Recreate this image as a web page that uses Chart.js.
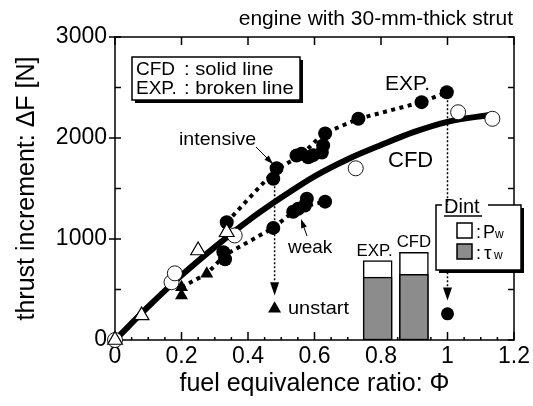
<!DOCTYPE html>
<html><head><meta charset="utf-8">
<script src="https://cdn.jsdelivr.net/npm/chart.js@4/dist/chart.umd.min.js"></script>
<style>html,body{margin:0;padding:0;background:#fff;overflow:hidden}</style>
</head><body>
<canvas id="c" width="533" height="406" style="width:533px;height:406px;display:block"></canvas>
<script>
// ---- tick labels ----
const xTickValues = [0, 0.2, 0.4, 0.6, 0.8, 1, 1.2];
const xTickLabels = ['0', '0.2', '0.4', '0.6', '0.8', '1', '1.2'];
const yTickValues = [0, 1000, 2000, 3000];
const yTickLabels = ['0', '1000', '2000', '3000'];

// ---- CFD solid curve ----
const cfdCurvePhi = [0, 0.1, 0.2, 0.3, 0.4, 0.5, 0.6, 0.7, 0.8, 0.9, 1.0, 1.13];
const cfdCurveDF  = [0, 330, 640, 920, 1180, 1410, 1620, 1790, 1930, 2060, 2160, 2230];

// ---- EXP broken lines ----
const expUpperPhi = [0.336, 0.481, 0.56, 0.626, 0.732, 0.922, 0.998];
const expUpperDF  = [1166, 1678, 1830, 2042, 2190, 2355, 2453];
const expLowerPhi = [0.2, 0.276, 0.33, 0.476, 0.536, 0.577, 0.632];
const expLowerDF  = [523, 655, 840, 1110, 1270, 1330, 1370];

// ---- markers ----
const expCirclePhi = [0.336, 0.476, 0.486, 0.546, 0.561, 0.581, 0.596, 0.622, 0.626, 0.632, 0.732, 0.922, 0.998,
                      0.326, 0.331, 0.476, 0.536, 0.551, 0.571, 0.577, 0.632];
const expCircleDF  = [1166, 1596, 1700, 1827, 1843, 1810, 1830, 1856, 1926, 2045, 2190, 2355, 2453,
                      870, 800, 1110, 1270, 1300, 1332, 1398, 1370];
const cfdCirclePhi = [0, 0.17, 0.18, 0.36, 0.724, 1.032, 1.135];
const cfdCircleDF  = [0, 572, 660, 1035, 1700, 2255, 2190];
const openTriPhi = [0, 0.08, 0.25, 0.336];
const openTriDF  = [0, 243, 886, 1067];
const fillTriPhi = [0.2, 0.2, 0.276];
const fillTriDF  = [523, 440, 655];
const unstartTriPhi = [0.48];
const unstartTriDF  = [310];
const unstartCirPhi = [1.0];
const unstartCirDF  = [259];

// ---- drop arrows (vertical broken arrows) ----
const dropPhi      = [0.48, 1.0];
const dropFromDF   = [1680, 2453];
const dropHeadBase = [572, 520];
const dropTipDF    = [440, 390];

// ---- Dint bars ----
const barLabels = ['EXP.', 'CFD'];
const barPhi    = [0.79, 0.899];
const barTotal  = [787, 869];   // Pw + tau_w
const barTau    = [622, 649];   // tau_w

const FONT = "'Liberation Sans', Arial, Helvetica, sans-serif";
const pts = (xs, ys) => xs.map((x, i) => ({x, y: ys[i]}));

function txt(ctx, s, x, y, size, align, sx) {
  ctx.save();
  ctx.font = size + 'px ' + FONT;
  ctx.textAlign = align || 'left';
  ctx.textBaseline = 'alphabetic';
  ctx.fillStyle = '#000';
  ctx.translate(x, y);
  if (sx) ctx.scale(sx, 1);
  ctx.fillText(s, 0, 0);
  ctx.restore();
}
function arrowHead(ctx, x1, y1, x2, y2, len, w) {
  const a = Math.atan2(y2 - y1, x2 - x1);
  ctx.beginPath();
  ctx.moveTo(x2, y2);
  ctx.lineTo(x2 - len * Math.cos(a) + w / 2 * Math.sin(a), y2 - len * Math.sin(a) - w / 2 * Math.cos(a));
  ctx.lineTo(x2 - len * Math.cos(a) - w / 2 * Math.sin(a), y2 - len * Math.sin(a) + w / 2 * Math.cos(a));
  ctx.closePath();
  ctx.fill();
}
function arrow(ctx, x1, y1, x2, y2) {
  ctx.strokeStyle = '#000'; ctx.fillStyle = '#000'; ctx.lineWidth = 1;
  ctx.setLineDash([]);
  const a = Math.atan2(y2 - y1, x2 - x1);
  ctx.beginPath(); ctx.moveTo(x1, y1); ctx.lineTo(x2 - 6 * Math.cos(a), y2 - 6 * Math.sin(a)); ctx.stroke();
  arrowHead(ctx, x1, y1, x2, y2, 9, 6);
}

const framePlugin = {
  id: 'frame',
  beforeDatasetsDraw(chart) {
    const {ctx, chartArea: a, scales: {x, y}} = chart;
    ctx.save();
    ctx.strokeStyle = '#000'; ctx.lineWidth = 1.5; ctx.setLineDash([]);
    ctx.strokeRect(a.left, a.top, a.right - a.left, a.bottom - a.top);
    ctx.beginPath();
    for (let v = 0; v <= 1.2001; v += 0.05) {
      const px = x.getPixelForValue(v);
      const major = Math.abs(v / 0.2 - Math.round(v / 0.2)) < 1e-6;
      ctx.moveTo(px, a.bottom); ctx.lineTo(px, a.bottom - (major ? 8 : 3));
      if (major) { ctx.moveTo(px, a.top); ctx.lineTo(px, a.top + 8); }
    }
    for (let v = 0; v <= 3000; v += 500) {
      const py = y.getPixelForValue(v);
      const major = v % 1000 === 0;
      ctx.moveTo(a.left - (major ? 6 : 0), py); ctx.lineTo(a.left + 6, py);
      ctx.moveTo(a.right, py); ctx.lineTo(a.right - 6, py);
    }
    ctx.stroke();
    ctx.restore();
  },
  afterDatasetsDraw(chart) {
    const {ctx, scales: {x, y}} = chart;
    ctx.save();
    // drop arrow heads
    ctx.fillStyle = '#000';
    dropPhi.forEach((p, i) => {
      const px = x.getPixelForValue(p);
      const yb = y.getPixelForValue(dropHeadBase[i]);
      const yt = y.getPixelForValue(dropTipDF[i]);
      ctx.beginPath(); ctx.moveTo(px - 4.5, yb); ctx.lineTo(px + 4.5, yb); ctx.lineTo(px, yt); ctx.closePath(); ctx.fill();
    });
    // bar labels
    txt(ctx, barLabels[0], x.getPixelForValue(barPhi[0]) - 3, y.getPixelForValue(barTotal[0]) - 5, 16, 'center', 1.05);
    txt(ctx, barLabels[1], x.getPixelForValue(barPhi[1]), y.getPixelForValue(barTotal[1]) - 5, 16, 'center', 1.05);

    // title
    txt(ctx, 'engine with 30-mm-thick strut', 513, 25, 21, 'right');

    // line-style legend box
    ctx.fillStyle = '#000'; ctx.fillRect(135, 60, 168, 43);
    ctx.fillStyle = '#fff'; ctx.fillRect(132, 57, 168, 43);
    ctx.strokeStyle = '#000'; ctx.lineWidth = 1.5; ctx.strokeRect(132, 57, 168, 43);
    txt(ctx, 'CFD', 136, 75, 19); txt(ctx, ': solid line', 184, 75, 19, 'left', 1.06);
    txt(ctx, 'EXP.', 136, 94, 19); txt(ctx, ': broken line', 184, 94, 19, 'left', 1.06);

    // annotations
    txt(ctx, 'EXP.', 385, 90, 21);
    txt(ctx, 'CFD', 388, 167, 22);
    txt(ctx, 'intensive', 179, 145, 19, 'left', 1.03);
    arrow(ctx, 256, 147, 273, 164);
    txt(ctx, 'weak', 288, 253, 19);
    arrow(ctx, 307, 236, 301, 219);
    txt(ctx, 'unstart', 288, 314, 19, 'left', 1.05);

    // Dint legend box
    const bx = 436, by = 205, bw = 85, bh = 65;
    ctx.fillStyle = '#000'; ctx.fillRect(bx + 3, by + 3, bw, bh);
    ctx.fillStyle = '#fff'; ctx.fillRect(bx, by, bw, bh);
    ctx.strokeStyle = '#000'; ctx.lineWidth = 1.5;
    ctx.beginPath();
    ctx.moveTo(bx + 6, by); ctx.lineTo(bx, by); ctx.lineTo(bx, by + bh); ctx.lineTo(bx + bw, by + bh);
    ctx.lineTo(bx + bw, by); ctx.lineTo(bx + 52, by);
    ctx.stroke();
    txt(ctx, 'Dint', 444, 213, 20);
    ctx.beginPath(); ctx.moveTo(444, 216); ctx.lineTo(482, 216); ctx.stroke();
    ctx.fillStyle = '#fff'; ctx.fillRect(457, 223, 15, 15); ctx.strokeRect(457, 223, 15, 15);
    ctx.fillStyle = '#8c8c8c'; ctx.fillRect(457, 244, 15, 15); ctx.strokeRect(457, 244, 15, 15);
    txt(ctx, ':', 476, 238, 18); txt(ctx, 'P', 483, 238, 18); txt(ctx, 'w', 495, 238, 12);
    txt(ctx, ':', 476, 259, 18); txt(ctx, 'τ', 484, 259, 19); txt(ctx, 'w', 494, 259, 12);
    ctx.restore();
  }
};

new Chart(document.getElementById('c'), {
  type: 'scatter',
  data: {
    datasets: [
      // markers (top)
      {type: 'scatter', data: pts(openTriPhi, openTriDF), pointStyle: 'triangle', pointRadius: 8.5,
       backgroundColor: '#fff', borderColor: '#000', borderWidth: 1.2, clip: false, order: 1},
      {type: 'scatter', data: pts(cfdCirclePhi, cfdCircleDF), pointStyle: 'circle', pointRadius: 7.5,
       backgroundColor: '#fff', borderColor: '#000', borderWidth: 0.9, clip: false, order: 2},
      {type: 'scatter', data: pts(expCirclePhi, expCircleDF), pointStyle: 'circle', pointRadius: 7,
       backgroundColor: '#000', borderColor: '#000', borderWidth: 0, clip: false, order: 3},
      {type: 'scatter', data: pts(fillTriPhi, fillTriDF).concat(pts(unstartTriPhi, unstartTriDF)), pointStyle: 'triangle', pointRadius: 7.5,
       backgroundColor: '#000', borderColor: '#000', borderWidth: 0, clip: false, order: 3},
      {type: 'scatter', data: pts(unstartCirPhi, unstartCirDF), pointStyle: 'circle', pointRadius: 6.5,
       backgroundColor: '#000', borderColor: '#000', borderWidth: 0, clip: false, order: 3},
      // lines
      {type: 'line', data: pts(cfdCurvePhi, cfdCurveDF), borderColor: '#000', borderWidth: 6, pointRadius: 0,
       cubicInterpolationMode: 'monotone', fill: false, clip: false, order: 5},
      {type: 'line', data: pts(expUpperPhi, expUpperDF), borderColor: '#000', borderWidth: 4, borderDash: [4, 4.5],
       pointRadius: 0, tension: 0, fill: false, order: 6},
      {type: 'line', data: pts(expLowerPhi, expLowerDF), borderColor: '#000', borderWidth: 4, borderDash: [4, 4.5],
       pointRadius: 0, tension: 0, fill: false, order: 6},
      {type: 'line', data: [{x: dropPhi[0], y: dropFromDF[0]}, {x: dropPhi[0], y: dropHeadBase[0]}], borderColor: '#000',
       borderWidth: 1.5, borderDash: [2, 2], pointRadius: 0, fill: false, order: 7},
      {type: 'line', data: [{x: dropPhi[1], y: dropFromDF[1]}, {x: dropPhi[1], y: dropHeadBase[1]}], borderColor: '#000',
       borderWidth: 1.5, borderDash: [2, 2], pointRadius: 0, fill: false, order: 7},
      // bars
      {type: 'bar', data: pts(barPhi, barTau), backgroundColor: '#8c8c8c', borderColor: '#000', borderWidth: 1.5,
       borderSkipped: false, barThickness: 29, grouped: false, order: 8},
      {type: 'bar', data: pts(barPhi, barTotal), backgroundColor: '#fff', borderColor: '#000', borderWidth: 1.5,
       borderSkipped: false, barThickness: 29, grouped: false, order: 9}
    ]
  },
  options: {
    responsive: false,
    animation: false,
    devicePixelRatio: 1,
    events: [],
    layout: {padding: {top: 37, right: 19, left: 0, bottom: 0}},
    plugins: {legend: {display: false}, tooltip: {enabled: false}, title: {display: false}},
    scales: {
      x: {
        type: 'linear', min: 0, max: 1.2, position: 'bottom', offset: false,
        afterBuildTicks: s => { s.ticks = xTickValues.map(v => ({value: v})); },
        afterFit: s => { s.height = 66; },
        grid: {display: false, drawTicks: false, offset: false},
        border: {display: false},
        ticks: {autoSkip: false, maxRotation: 0, padding: 3, color: '#000',
                font: {family: FONT, size: 23}, callback: (v, i) => xTickLabels[i]},
        title: {display: true, text: 'fuel equivalence ratio: Φ', color: '#000',
                font: {family: FONT, size: 25}, padding: {top: 0, bottom: 7}}
      },
      y: {
        type: 'linear', min: 0, max: 3000,
        afterBuildTicks: s => { s.ticks = yTickValues.map(v => ({value: v})); },
        afterFit: s => { s.width = 115; },
        grid: {display: false, drawTicks: false},
        border: {display: false},
        ticks: {autoSkip: false, padding: 8, color: '#000',
                font: {family: FONT, size: 23}, callback: (v, i) => yTickLabels[i]},
        title: {display: true, text: 'thrust increment: ΔF [N]', color: '#000',
                font: {family: FONT, size: 25}, padding: {top: 12, bottom: 0}}
      }
    }
  },
  plugins: [framePlugin]
});
</script>
</body></html>
